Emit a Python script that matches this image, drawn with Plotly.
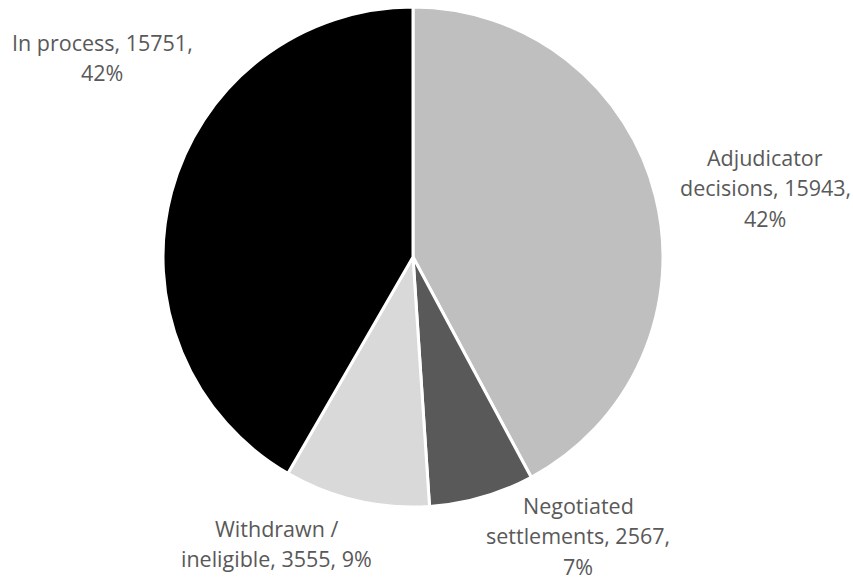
import plotly.graph_objects as go

# Case outcomes
labels = ["Adjudicator decisions", "Negotiated settlements", "Withdrawn / ineligible", "In process"]
values = [15943, 2567, 3555, 15751]
colors = ["#bfbfbf", "#595959", "#d9d9d9", "#000000"]

total = sum(values)
pcts = [round(100 * v / total) for v in values]

# How each label's text wraps into lines (indices where the words break)
full_text = [f"{l}, {v}, {p}%" for l, v, p in zip(labels, values, pcts)]


def wrap(text, breaks):
    parts, start = [], 0
    for b in breaks:
        parts.append(text[start:b].strip())
        start = b
    parts.append(text[start:].strip())
    return parts


line_breaks = [
    [len("Adjudicator"), len("Adjudicator decisions, 15943,")],
    [len("Negotiated"), len("Negotiated settlements, 2567,")],
    [len("Withdrawn /")],
    [len("In process, 15751,")],
]
wrapped = [wrap(t, b) for t, b in zip(full_text, line_breaks)]

# Label anchor (centre x, first-line y) in pixels
W, H = 853, 581
label_pos = [(765, 157), (578, 505), (276, 528), (102, 42)]
line_gap = 30.5

fig = go.Figure(
    go.Pie(
        labels=labels,
        values=values,
        sort=False,
        direction="clockwise",
        rotation=0,
        marker=dict(colors=colors, line=dict(color="white", width=3)),
        textinfo="none",
        hoverinfo="label+value+percent",
        domain=dict(x=[(413 - 250) / W, (413 + 250) / W], y=[1 - 507 / H, 1 - 7 / H]),
        showlegend=False,
    )
)

annotations = []
for lines, (cx, cy) in zip(wrapped, label_pos):
    for i, line in enumerate(lines):
        annotations.append(
            dict(
                x=cx / W,
                y=1 - (cy + i * line_gap) / H,
                xref="paper",
                yref="paper",
                text=line,
                showarrow=False,
                xanchor="center",
                yanchor="middle",
                font=dict(family="Open Sans", size=21.5, color="#595959"),
            )
        )

fig.update_layout(
    width=W,
    height=H,
    margin=dict(l=0, r=0, t=0, b=0),
    paper_bgcolor="white",
    plot_bgcolor="white",
    annotations=annotations,
)

fig.write_html("out.html")
